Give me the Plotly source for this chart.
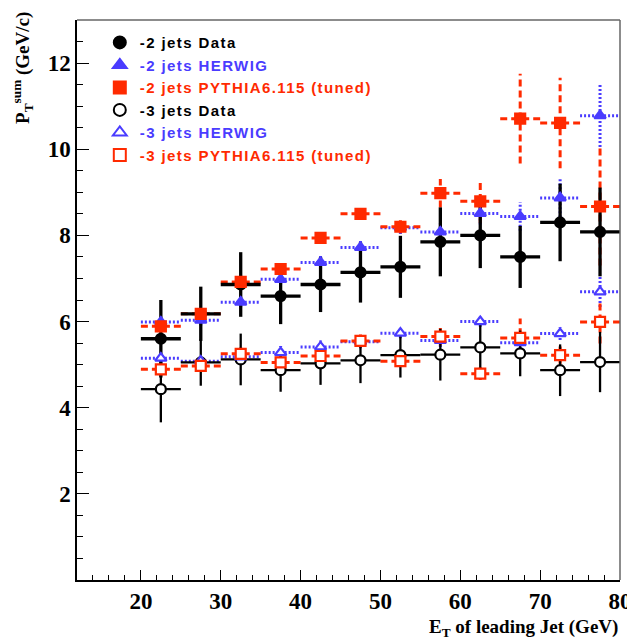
import plotly.graph_objects as go

# ---------------------------------------------------------------------------
# Data: bins of leading-jet E_T (GeV), 5 GeV wide
# ---------------------------------------------------------------------------
et_bins = [22.5, 27.5, 32.5, 37.5, 42.5, 47.5, 52.5, 57.5, 62.5, 67.5, 72.5, 77.5]
bin_half = 2.5

data2 = [5.60, 6.18, 6.86, 6.59, 6.86, 7.14, 7.27, 7.85, 8.00, 7.50, 8.30, 8.08]
data2_err = [0.90, 0.63, 0.75, 0.65, 0.64, 0.70, 0.72, 0.80, 0.76, 0.72, 0.90, 1.03]
data3 = [4.43, 5.05, 5.12, 4.87, 5.03, 5.10, 5.22, 5.23, 5.40, 5.26, 4.87, 5.06]
data3_err = [0.77, 0.54, 0.60, 0.50, 0.50, 0.53, 0.52, 0.60, 0.60, 0.53, 0.60, 0.70]

herwig2 = [5.99, 6.03, 6.45, 6.98, 7.37, 7.72, 8.18, 8.08, 8.51, 8.44, 8.87, 10.78]
herwig2_err = [0.12, 0.12, 0.12, 0.12, 0.15, 0.15, 0.15, 0.20, 0.26, 0.33, 0.45, 0.73]
pythia2 = [5.89, 6.18, 6.92, 7.22, 7.94, 8.50, 8.20, 8.98, 8.79, 10.71, 10.61, 8.67]
pythia2_err = [0.12, 0.12, 0.15, 0.12, 0.08, 0.12, 0.15, 0.33, 0.50, 1.04, 1.05, 1.37]

herwig3 = [5.15, 5.08, 5.18, 5.28, 5.41, 5.53, 5.73, 5.56, 6.00, 5.51, 5.72, 6.69]
herwig3_err = [0.12, 0.10, 0.10, 0.15, 0.15, 0.15, 0.12, 0.15, 0.12, 0.15, 0.15, 0.35]
pythia3 = [4.89, 4.97, 5.25, 5.05, 5.20, 5.55, 5.08, 5.65, 4.79, 5.62, 5.22, 5.99]
pythia3_err = [0.15, 0.12, 0.15, 0.15, 0.20, 0.15, 0.12, 0.20, 0.15, 0.45, 0.20, 0.50]

BLACK = "#000000"
BLUE = "#4a3cff"
RED = "#ff2a00"
SERIF = "Liberation Serif"
SANS = "Liberation Sans"


def cross_segments(xs, ys, errs, dx):
    """Horizontal bin-width + vertical error segments, None-separated."""
    sx, sy = [], []
    for x, y, e in zip(xs, ys, errs):
        sx += [x - dx, x + dx, None, x, x, None]
        sy += [y, y, None, y - e, y + e, None]
    return sx, sy


def legend_name(text, color):
    # ROOT's Helvetica is set wider than Liberation Sans, pad the letters a bit
    return (f"<b><span style='color:{color};letter-spacing:1.4px'>"
            f"{text}</span></b>")


fig = go.Figure()

# ---- MC predictions: dashed / dotted crosses ------------------------------
mc = [
    (herwig2, herwig2_err, BLUE, "2px,2px"),
    (herwig3, herwig3_err, BLUE, "2px,2px"),
    (pythia2, pythia2_err, RED, "7px,4px"),
    (pythia3, pythia3_err, RED, "7px,4px"),
]
for ys, errs, color, dash in mc:
    sx, sy = cross_segments(et_bins, ys, errs, bin_half)
    fig.add_trace(go.Scatter(
        x=sx, y=sy, mode="lines",
        line=dict(color=color, width=3, dash=dash),
        showlegend=False, hoverinfo="skip",
    ))

# ---- data crosses (solid) --------------------------------------------------
for ys, errs, width in [(data2, data2_err, 3.3), (data3, data3_err, 2.3)]:
    sx, sy = cross_segments(et_bins, ys, errs, bin_half)
    fig.add_trace(go.Scatter(
        x=sx, y=sy, mode="lines",
        line=dict(color=BLACK, width=width),
        showlegend=False, hoverinfo="skip",
    ))

# ---- markers (these carry the legend) -------------------------------------
markers = [
    (data2, "-2 jets Data", BLACK, "circle", BLACK, 10),
    (herwig2, "-2 jets HERWIG", BLUE, "triangle-up", BLUE, 10),
    (pythia2, "-2 jets PYTHIA6.115 (tuned)", RED, "square", RED, 10),
    (data3, "-3 jets Data", BLACK, "circle", "white", 10),
    (herwig3, "-3 jets HERWIG", BLUE, "triangle-up", "white", 10),
    (pythia3, "-3 jets PYTHIA6.115 (tuned)", RED, "square", "white", 10),
]
for ys, name, color, symbol, fill, size in markers:
    fig.add_trace(go.Scatter(
        x=et_bins, y=ys, mode="markers",
        name=legend_name(name, color),
        marker=dict(symbol=symbol, size=size, color=fill,
                    line=dict(color=color, width=2.2)),
    ))

# page body has an 8px margin, so the figure is 8px smaller than the window
fig.update_layout(
    width=627, height=634,
    paper_bgcolor="white", plot_bgcolor="white",
    margin=dict(l=69, r=15, t=12, b=62, autoexpand=False),
    showlegend=True,
    legend=dict(
        x=0.042, y=0.989, xanchor="left", yanchor="top",
        bgcolor="rgba(0,0,0,0)", borderwidth=0,
        font=dict(family=SANS, size=15, color=BLACK),
        itemsizing="constant", tracegroupgap=0,
    ),
    xaxis=dict(
        range=[12, 80], showgrid=False, zeroline=False, automargin=False,
        showline=True, linecolor="#000000", linewidth=1.5, mirror=False,
        ticks="inside", ticklen=10, tickwidth=1.2, tickcolor="#000000",
        tickvals=[20, 30, 40, 50, 60, 70, 80],
        ticktext=["20", "30", "40", "50", "60", "70", "80"],
        tickfont=dict(family=SERIF, size=23, color="#000000", weight="bold"),
        minor=dict(ticks="inside", ticklen=5, tickwidth=1.2, dtick=2, tick0=0,
                   tickcolor="#000000"),
    ),
    yaxis=dict(
        range=[0, 13], showgrid=False, zeroline=False, automargin=False,
        showline=True, linecolor="#000000", linewidth=1.5, mirror=False,
        ticks="inside", ticklen=12, tickwidth=1.2, tickcolor="#000000",
        tickvals=[2, 4, 6, 8, 10, 12],
        ticktext=["2", "4", "6", "8", "10", "12"],
        tickfont=dict(family=SERIF, size=23, color="#000000", weight="bold"),
        minor=dict(ticks="inside", ticklen=6, tickwidth=1.2, dtick=0.5, tick0=0,
                   tickcolor="#000000"),
    ),
    shapes=[
        dict(type="line", xref="paper", yref="paper", x0=0, x1=1, y0=1, y1=1,
             line=dict(color="#666666", width=1.5)),
        dict(type="line", xref="paper", yref="paper", x0=1, x1=1, y0=0, y1=1,
             line=dict(color="#666666", width=1.5)),
    ],
    annotations=[
        dict(text="<b>P<sub>T</sub><sup>sum</sup> (GeV/c)</b>",
             xref="paper", yref="paper", x=-0.0995, y=1.018,
             xanchor="center", yanchor="top", textangle=-90, showarrow=False,
             font=dict(family=SERIF, size=19, color="#000000")),
        dict(text="<b>E<sub>T</sub> of leading Jet (GeV)</b>",
             xref="paper", yref="paper", x=1.0, y=-0.0857,
             xanchor="right", yanchor="middle", showarrow=False,
             font=dict(family=SERIF, size=19, color="#000000")),
    ],
)

fig.write_html("out.html")
